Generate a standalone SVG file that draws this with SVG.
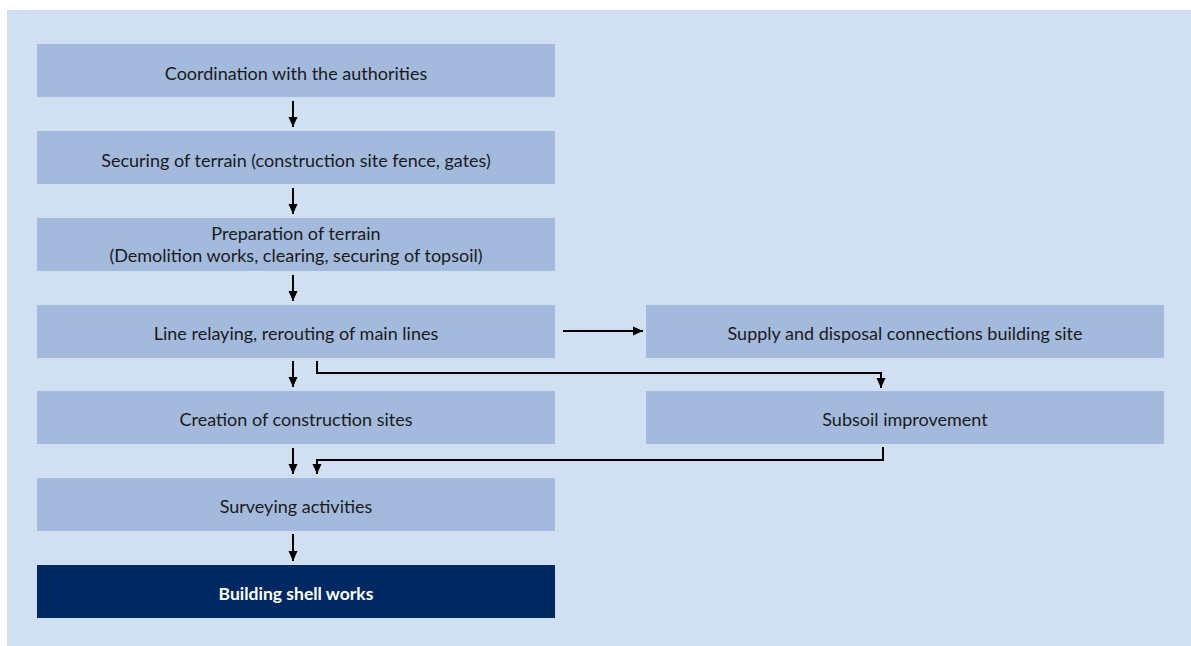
<svg xmlns="http://www.w3.org/2000/svg" width="1191" height="646" viewBox="0 0 1191 646">
<style>
.box{fill:#a3badd}
.dark{fill:#002862}
.t{font-family:Lato,"Liberation Sans",sans-serif;font-size:18px;fill:#1a1a1a;text-anchor:middle}
.tb{font-family:Lato,"Liberation Sans",sans-serif;font-size:17.5px;font-weight:bold;fill:#ffffff;text-anchor:middle}
.c{fill:none;stroke:#000;stroke-width:2}
</style>
<defs>
<marker id="ah" viewBox="0 0 10 10" refX="10" refY="5" markerWidth="10" markerHeight="11" markerUnits="userSpaceOnUse" orient="auto">
<path d="M0,0.5 L10,5 L0,9.5 Z" fill="#000"/>
</marker>
</defs>
<rect x="0" y="0" width="1191" height="646" fill="#ffffff"/>
<rect x="7" y="10" width="1184" height="636" fill="#d0dff2"/>
<g id="n1"><rect class="box" x="37" y="44" width="518" height="53"/><text class="t" x="296" y="80">Coordination with the authorities</text></g>
<g id="n2"><rect class="box" x="37" y="131" width="518" height="53"/><text class="t" x="296" y="167">Securing of terrain (construction site fence, gates)</text></g>
<g id="n3"><rect class="box" x="37" y="218" width="518" height="53"/><text class="t" x="296" y="240">Preparation of terrain</text><text class="t" x="296" y="262">(Demolition works, clearing, securing of topsoil)</text></g>
<g id="n4"><rect class="box" x="37" y="305" width="518" height="53"/><text class="t" x="296" y="340">Line relaying, rerouting of main lines</text></g>
<g id="n5"><rect class="box" x="37" y="391" width="518" height="53"/><text class="t" x="296" y="426">Creation of construction sites</text></g>
<g id="n6"><rect class="box" x="37" y="478" width="518" height="53"/><text class="t" x="296" y="513">Surveying activities</text></g>
<g id="n7"><rect class="dark" x="37" y="565" width="518" height="53"/><text class="tb" x="296" y="600">Building shell works</text></g>
<g id="n8"><rect class="box" x="646" y="305" width="518" height="53"/><text class="t" x="905" y="340">Supply and disposal connections building site</text></g>
<g id="n9"><rect class="box" x="646" y="391" width="518" height="53"/><text class="t" x="905" y="426">Subsoil improvement</text></g>
<g id="connectors">
<path class="c" d="M293,101 V127" marker-end="url(#ah)"/>
<path class="c" d="M293,188 V214" marker-end="url(#ah)"/>
<path class="c" d="M293,275 V301" marker-end="url(#ah)"/>
<path class="c" d="M293,361 V387" marker-end="url(#ah)"/>
<path class="c" d="M293,448 V474" marker-end="url(#ah)"/>
<path class="c" d="M293,534 V561" marker-end="url(#ah)"/>
<path class="c" d="M563,331 H643" marker-end="url(#ah)"/>
<path class="c" d="M317,361 V373 H881 V388" marker-end="url(#ah)"/>
<path class="c" d="M883,447 V460 H317 V474" marker-end="url(#ah)"/>
</g>
</svg>
